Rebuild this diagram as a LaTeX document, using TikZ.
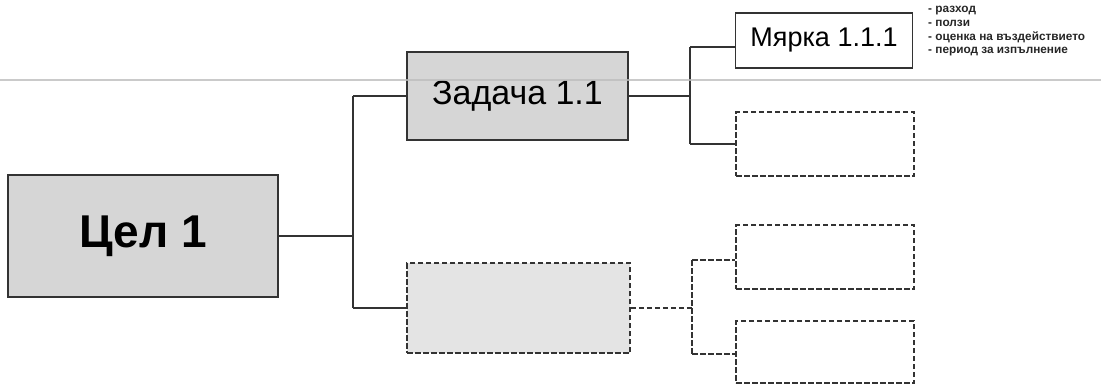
\documentclass[tikz,border=0pt]{standalone}
\usepackage{fontspec}
\setmainfont{Liberation Sans}
\definecolor{ln}{HTML}{333333}
\definecolor{fillA}{HTML}{D6D6D6}
\definecolor{fillB}{HTML}{E4E4E4}
\definecolor{scan}{HTML}{BDBDBD}
\begin{document}
\begin{tikzpicture}[x=1pt,y=-1pt,
  solidbox/.style={draw=ln,line width=1.7pt,inner sep=0pt,fill=fillA},
  dashbox/.style={draw=ln,line width=1.9pt,inner sep=0pt,dash pattern=on 5.5pt off 2.5pt},
  conn/.style={draw=ln,line width=1.6pt},
  dconn/.style={draw=ln,line width=1.9pt,dash pattern=on 5.5pt off 2.5pt},
]
\useasboundingbox (0,0) rectangle (1101,386);
% nodes
\node[solidbox,minimum width=270pt,minimum height=122pt] (cel) at (143,236)
  {\fontsize{46pt}{50pt}\selectfont\bfseries Цел 1};
\node[solidbox,minimum width=221pt,minimum height=88pt] (zad) at (517.5,96)
  {\fontsize{34pt}{38pt}\selectfont Задача 1.1};
\node[dashbox,fill=fillB,minimum width=223pt,minimum height=90pt] (zad2) at (518.5,308) {};
\node[solidbox,fill=white,minimum width=177pt,minimum height=55pt] (m111) at (824,40.5)
  {\fontsize{27pt}{30pt}\selectfont Мярка 1.1.1};
\node[dashbox,minimum width=178pt,minimum height=64pt] (m112) at (825,144) {};
\node[dashbox,minimum width=178pt,minimum height=64pt] (m121) at (825,257) {};
\node[dashbox,minimum width=178pt,minimum height=62pt] (m122) at (825,352) {};
\node[anchor=north west,align=left,inner sep=0pt,text=black!85,
      font=\fontsize{11.8pt}{13.8pt}\selectfont\bfseries] (notes) at (928,6)
  {- разход\\ - ползи\\ - оценка на въздействието\\ - период за изпълнение};
% junction coordinates
\coordinate (j1t) at (353,96);
\coordinate (j1b) at (353,308);
\coordinate (j1m) at (353,236);
\coordinate (j2t) at (690,47);
\coordinate (j2b) at (690,144);
\coordinate (j2m) at (690,96);
\coordinate (j3t) at (692,260);
\coordinate (j3b) at (692,354);
\coordinate (j3m) at (692,308);
% connectors level 1
\draw[conn] (cel.east |- j1m) -- (j1m);
\draw[conn] (j1t) -- (j1b);
\draw[conn] (j1t) -- (zad.west |- j1t);
\draw[conn] (j1b) -- (zad2.west |- j1b);
% connectors level 2 (solid)
\draw[conn] (zad.east |- j2m) -- (j2m);
\draw[conn] (j2t) -- (j2b);
\draw[conn] (j2t) -- (m111.west |- j2t);
\draw[conn] (j2b) -- (m112.west |- j2b);
% connectors level 2 (dashed)
\draw[dconn] (zad2.east |- j3m) -- (j3m);
\draw[dconn] (j3t) -- (j3b);
\draw[dconn] (j3t) -- (m121.west |- j3t);
\draw[dconn] (j3b) -- (m122.west |- j3b);
% scan line
\draw[scan,line width=1.6pt,opacity=0.8] (0,80) -- (1101,80);
\end{tikzpicture}
\end{document}
